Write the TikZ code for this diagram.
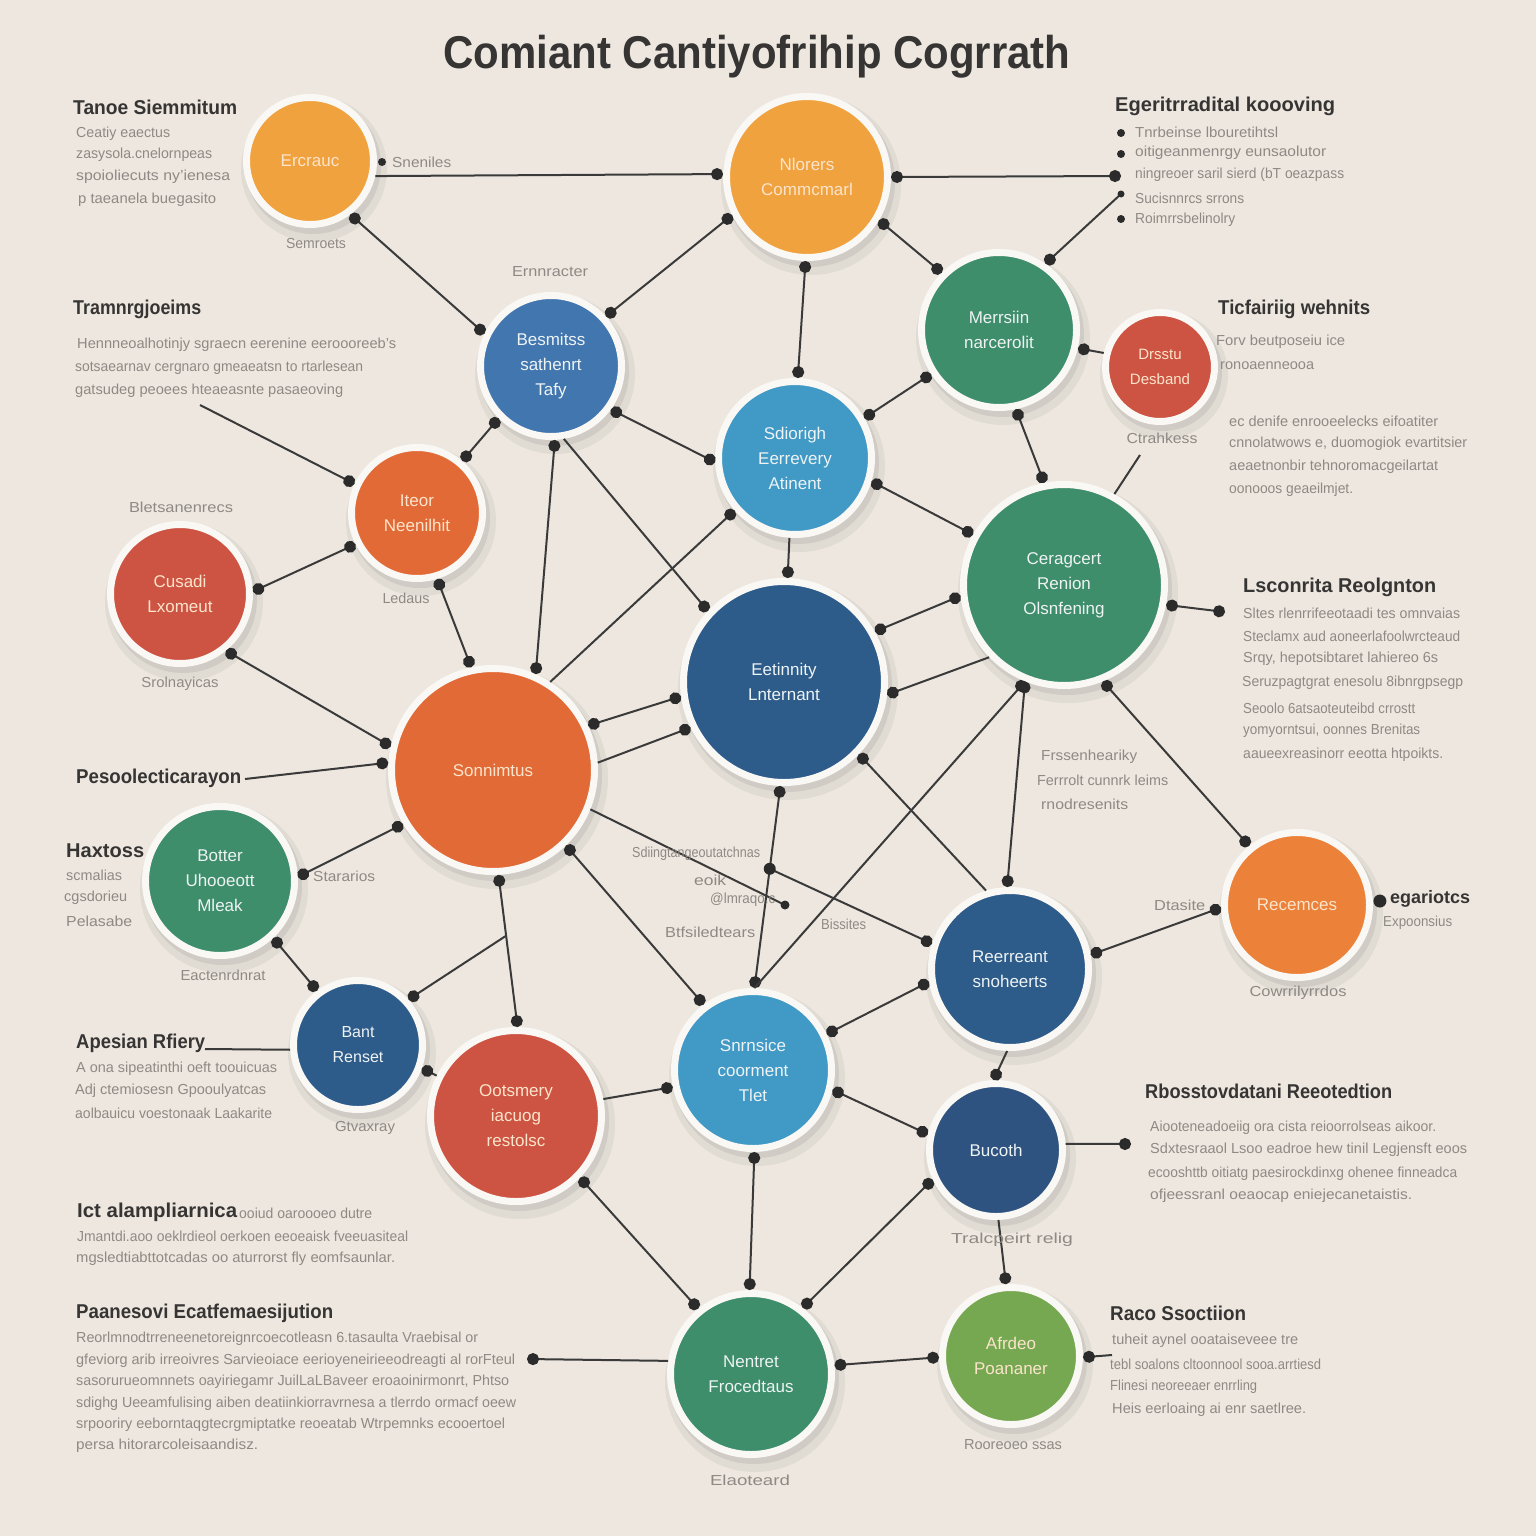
\documentclass[tikz,border=0pt]{standalone}
\usepackage{fontspec}
\setmainfont{Liberation Sans}
\usepackage{graphicx}
\usetikzlibrary{arrows.meta,calc}
\definecolor{bgc}{HTML}{EDE7DF}
\definecolor{ringc}{HTML}{FAF8F4}
\definecolor{linec}{HTML}{3A3A3A}
\definecolor{dotc}{HTML}{2B2B2B}
\definecolor{headc}{HTML}{363534}
\definecolor{bodyc}{HTML}{8E8984}
\definecolor{cOrL}{HTML}{F0A23F}
\definecolor{cOr}{HTML}{E26A37}
\definecolor{cOrB}{HTML}{EC8239}
\definecolor{cRed}{HTML}{CD5443}
\definecolor{cGreen}{HTML}{3E8D6B}
\definecolor{cBlue}{HTML}{4276AF}
\definecolor{cLBlue}{HTML}{4199C6}
\definecolor{cDBlue}{HTML}{2D5B8A}
\definecolor{cNBlue}{HTML}{2F5380}
\definecolor{cLGreen}{HTML}{76A851}
\definecolor{tCream}{HTML}{FBE4CB}
\definecolor{tWhite}{HTML}{EEF3F4}
\newcounter{tcnt}
\newcommand\bodyfont{\fontsize{14.5}{17}\selectfont}
\newcommand\headfont{\fontsize{20}{24}\selectfont\bfseries}
\newcommand\nodefont{\fontsize{17}{25}\selectfont}
\newcommand\tl[4]{\stepcounter{tcnt}\node[txt,anchor=west] (t\arabic{tcnt}) at (#1,#2) {\resizebox{#3pt}{\height}{#4}};}
\newcommand\hd[4]{\stepcounter{tcnt}\node[hdt,anchor=west] (t\arabic{tcnt}) at (#1,#2) {\resizebox{#3pt}{\height}{#4}};}
\newcommand\lb[4]{\stepcounter{tcnt}\node[txt,anchor=center] (t\arabic{tcnt}) at (#1,#2) {\resizebox{#3pt}{\height}{#4}};}
\newcommand\cn[7]{%
  \fill[black,opacity=.05] (#2+4,#3+8) circle[radius={(#4+13)*1pt}];
  \fill[black,opacity=.07] (#2+3,#3+5) circle[radius={(#4+8)*1pt}];
  \node[circle,fill=#5,draw=ringc,line width=7pt,minimum size={2*#4+7},inner sep=0pt,text=#6,font=\nodefont,align=center] (#1) at (#2,#3) {#7};}
\tikzset{
  txt/.style={inner sep=0pt,text=bodyc,font=\bodyfont},
  hdt/.style={inner sep=0pt,text=headc,font=\headfont},
  conn/.style={draw=linec,line width=2pt},
  dd/.style={{Circle[length=12pt,color=dotc]}-{Circle[length=12pt,color=dotc]}},
  ds/.style={{Circle[length=12pt,color=dotc]}-},
  de/.style={-{Circle[length=12pt,color=dotc]}},
}
\begin{document}
\begin{tikzpicture}[x=1pt,y=-1pt]
\fill[bgc] (0,0) rectangle (1536,1536);
\useasboundingbox (0,0) rectangle (1536,1536);

% title
\node[inner sep=0pt,text=headc,font=\fontsize{46}{52}\selectfont\bfseries] (title) at (757,57) {\resizebox{627pt}{\height}{Comiant Cantiyofrihip Cogrrath}};

% circles
\cn{n1}{310}{161}{60}{cOrL}{tCream}{Ercrauc}
\cn{n2}{807}{177}{77}{cOrL}{tCream}{Nlorers\\Commcmarl}
\cn{n3}{999}{330}{74}{cGreen}{tWhite}{Merrsiin\\narcerolit}
\cn{n4}{1160}{367}{51}{cRed}{tCream}{\fontsize{15}{22}\selectfont Drsstu\\\fontsize{15}{22}\selectfont Desband}
\cn{n5}{551}{366}{67}{cBlue}{tWhite}{Besmitss\\sathenrt\\Tafy}
\cn{n6}{795}{458}{73}{cLBlue}{tWhite}{Sdiorigh\\Eerrevery\\Atinent}
\cn{n7}{417}{513}{62}{cOr}{tCream}{Iteor\\Neenilhit}
\cn{n8}{180}{594}{66}{cRed}{tCream}{Cusadi\\Lxomeut}
\cn{n9}{1064}{585}{97}{cGreen}{tWhite}{Ceragcert\\Renion\\Olsnfening}
\cn{n10}{784}{682}{97}{cDBlue}{tWhite}{Eetinnity\\Lnternant}
\cn{n11}{493}{770}{98}{cOr}{tCream}{Sonnimtus}
\cn{n12}{220}{881}{71}{cGreen}{tWhite}{Botter\\Uhooeott\\Mleak}
\cn{n13}{1297}{905}{69}{cOrB}{tCream}{Recemces}
\cn{n14}{1010}{969}{75}{cDBlue}{tWhite}{Reerreant\\snoheerts}
\cn{n15}{358}{1045}{61}{cDBlue}{tWhite}{\fontsize{16}{24}\selectfont Bant\\\fontsize{16}{24}\selectfont Renset}
\cn{n16}{516}{1116}{82}{cRed}{tCream}{Ootsmery\\iacuog\\restolsc}
\cn{n17}{753}{1070}{75}{cLBlue}{tWhite}{Snrnsice\\coorment\\Tlet}
\cn{n18}{996}{1150}{63}{cNBlue}{tWhite}{Bucoth}
\cn{n19}{751}{1374}{77}{cGreen}{tWhite}{Nentret\\Frocedtaus}
\cn{n20}{1011}{1356}{65}{cLGreen}{tCream}{Afrdeo\\Poananer}

% free coordinates
\coordinate (b3) at (1121,176);
\coordinate (b4) at (1121,194);
\coordinate (c11) at (1140,455);
\coordinate (c21) at (200,405);
\coordinate (c23) at (245,779);
\coordinate (c41) at (205,1049);
\coordinate (b33) at (1225,612);
\coordinate (b50) at (1131,1144);
\coordinate (b53) at (527,1359);
\coordinate (c55) at (1112,1355);
\coordinate (m3) at (785,905);
\coordinate (m1) at ($(n10.-92)!0.41!(n17.89)$);
\coordinate (m2) at ($(n11.-87)!0.4!(n16.89)$);

% connectors
\draw[conn,de] (n1.-13) -- (n2.178);
\draw[conn,dd] (n1.-53) -- (n5.154);
\draw[conn,dd] (n2.207) -- (n5.42);
\draw[conn,dd] (n2.269) -- (n6.88);
\draw[conn,dd] (n2.0) -- (b3);
\draw[conn,dd] (n2.-31) -- (n3.135);
\draw[conn,ds] (n3.55) -- (b4);
\draw[conn,ds] (n3.-13) -- (n4.166);
\draw[conn,dd] (n3.-78) -- (n9.101);
\draw[conn,dd] (n3.213) -- (n6.30);
\draw[conn] (c11) -- (n9.61);
\draw[conn,dd] (n5.-36) -- (n6.183);
\draw[conn,dd] (n5.-135) -- (n7.49);
\draw[conn,dd] (n5.-87) -- (n11.66);
\draw[conn,de] (n5.-80) -- (n10.137);
\draw[conn,de] (n6.-94) -- (n10.88);
\draw[conn,ds] (n6.221) -- (n11.57);
\draw[conn,dd] (n6.-17) -- (n9.151);
\draw[conn,dd] (n7.207) -- (n8.2);
\draw[conn,dd] (n7.-73) -- (n11.102);
\draw[conn,de] (c21) -- (n7.155);
\draw[conn,dd] (n8.-51) -- (n11.167);
\draw[conn,de] (c23) -- (n11.176);
\draw[conn,dd] (n10.188) -- (n11.25);
\draw[conn,ds] (n10.206) -- (n11.4);
\draw[conn,dd] (n10.29) -- (n9.186);
\draw[conn,ds] (n10.-7) -- (n9.224);
\draw[conn,ds] (n10.-44) -- (n14.107);
\draw[conn,dd] (n10.-92) -- (n17.89);
\draw[conn,de] (m1) -- (n14.162);
\draw[conn,ds] (n9.248) -- (n17.89);
\draw[conn,dd] (n9.248) -- (n14.92);
\draw[conn,dd] (n9.-11) -- (b33);
\draw[conn,dd] (n9.-68) -- (n13.129);
\draw[conn,dd] (n11.211) -- (n12.3);
\draw[conn,dd] (n11.-87) -- (n16.89);
\draw[conn,de] (m2) -- (n15.42);
\draw[conn,dd] (n11.-46) -- (n17.127);
\draw[conn] (n11.-22) -- (m3);
\draw[conn,dd] (n12.-47) -- (n15.127);
\draw[conn] (c41) -- (n15.184);
\draw[conn,ds] (n15.-20) -- (n16.153);
\draw[conn,de] (n16.11) -- (n17.192);
\draw[conn,dd] (n16.-44) -- (n19.129);
\draw[conn,dd] (n17.26) -- (n14.189);
\draw[conn,dd] (n17.-14) -- (n18.167);
\draw[conn,dd] (n17.-89) -- (n19.91);
\draw[conn,dd] (n14.10) -- (n13.182);
\draw[conn,de] (n14.-92) -- (n18.92);
\draw[conn,de] (n18.5) -- (b50);
\draw[conn,dd] (n18.205) -- (n19.52);
\draw[conn,de] (n18.-88) -- (n20.94);
\draw[conn,de] (n19.171) -- (b53);
\draw[conn,dd] (n19.6) -- (n20.181);
\draw[conn,ds] (n20.-1) -- (c55);

% extra dots
\fill[dotc] (m1) circle[radius=6pt];
\fill[dotc] (m3) circle[radius=4.5pt];
\fill[dotc] (382,162) circle[radius=4pt];
\fill[dotc] ($(n13.3)+(7,0)$) circle[radius=6.5pt];
\fill[dotc] (1121,133) circle[radius=4pt];
\fill[dotc] (1121,154) circle[radius=4pt];
\fill[dotc] (1121,219) circle[radius=4pt];
\fill[dotc] (b4) circle[radius=3.5pt];

% ---- texts ----
\hd{73}{107}{164}{Tanoe Siemmitum}
\tl{76}{134}{94}{Ceatiy eaectus}
\tl{76}{155}{136}{zasysola.cnelornpeas}
\tl{76}{177}{154}{spoioliecuts ny'ienesa}
\tl{78}{200}{138}{p taeanela buegasito}
\tl{392}{162}{59}{Sneniles}
\lb{316}{244}{60}{Semroets}
\lb{550}{272}{76}{Ernnracter}
\hd{73}{309}{128}{Tramnrgjoeims}
\tl{77}{345}{319}{Hennneoalhotinjy sgraecn eerenine eeroooreeb's}
\tl{75}{368}{288}{sotsaearnav cergnaro gmeaeatsn to rtarlesean}
\tl{75}{391}{268}{gatsudeg peoees hteaeasnte pasaeoving}
\lb{181}{507}{104}{Bletsanenrecs}
\lb{406}{598}{47}{Ledaus}
\lb{180}{684}{77}{Srolnayicas}
\hd{76}{778}{165}{Pesoolecticarayon}

\hd{1115}{106}{220}{Egeritrradital koooving}
\tl{1135}{132}{143}{Tnrbeinse lbouretihtsl}
\tl{1135}{153}{191}{oitigeanmenrgy eunsaolutor}
\tl{1135}{175}{209}{ningreoer saril sierd (bT oeazpass}
\tl{1135}{198}{109}{Sucisnnrcs srrons}
\tl{1135}{220}{100}{Roimrrsbelinolry}
\hd{1218}{309}{152}{Ticfairiig wehnits}
\tl{1216}{342}{129}{Forv beutposeiu ice}
\tl{1220}{366}{94}{ronoaenneooa}
\lb{1162}{438}{71}{Ctrahkess}
\tl{1229}{421}{209}{ec denife enrooeelecks eifoatiter}
\tl{1229}{444}{238}{cnnolatwows e, duomogiok evartitsier}
\tl{1229}{467}{209}{aeaetnonbir tehnoromacgeilartat}
\tl{1229}{490}{124}{oonooos geaeilmjet.}

\hd{1243}{587}{193}{Lsconrita Reolgnton}
\tl{1243}{613}{217}{Sltes rlenrrifeeotaadi tes omnvaias}
\tl{1243}{636}{217}{Steclamx aud aoneerlafoolwrcteaud}
\tl{1243}{659}{195}{Srqy, hepotsibtaret lahiereo 6s}
\tl{1242}{683}{221}{Seruzpagtgrat enesolu 8ibnrgpsegp}
\tl{1243}{708}{172}{Seoolo 6atsaoteuteibd crrostt}
\tl{1243}{731}{177}{yomyorntsui, oonnes Brenitas}
\tl{1243}{755}{200}{aaueexreasinorr eeotta htpoikts.}
\tl{1041}{757}{96}{Frssenheariky}
\tl{1037}{780}{131}{Ferrrolt cunnrk leims}
\tl{1041}{804}{87}{rnodresenits}

\hd{66}{851}{78}{Haxtoss}
\tl{66}{875}{56}{scmalias}
\tl{64}{898}{63}{cgsdorieu}
\tl{66}{921}{66}{Pelasabe}
\tl{313}{876}{62}{Stararios}
\lb{223}{975}{85}{Eactenrdnrat}

\tl{632}{854}{128}{Sdiingtangeoutatchnas}
\tl{694}{880}{32}{eoik}
\tl{710}{900}{65}{@lmraqo.c}
\tl{665}{932}{90}{Btfsiledtears}
\tl{821}{924}{45}{Bissites}

\tl{1154}{905}{51}{Dtasite}
\node[hdt,anchor=west,font=\fontsize{18}{22}\selectfont\bfseries] (t900) at (1390,899) {\resizebox{80pt}{\height}{egariotcs}};
\tl{1383}{923}{69}{Expoonsius}
\lb{1298}{993}{97}{Cowrrilyrrdos}

\hd{76}{1043}{129}{Apesian Rfiery}
\tl{76}{1069}{201}{A ona sipeatinthi oeft toouicuas}
\tl{75}{1091}{191}{Adj ctemiosesn Gpooulyatcas}
\tl{75}{1113}{197}{aolbauicu voestonaak Laakarite}
\lb{365}{1128}{60}{Gtvaxray}

\hd{77}{1212}{160}{Ict alampliarnica}
\tl{239}{1213}{133}{ooiud oaroooeo dutre}
\tl{77}{1236}{331}{Jmantdi.aoo oeklrdieol oerkoen eeoeaisk fveeuasiteal}
\tl{76}{1259}{319}{mgsledtiabttotcadas oo aturrorst fly eomfsaunlar.}
\lb{1012}{1240}{122}{Tralcpeirt relig}

\hd{1145}{1091}{247}{Rbosstovdatani Reeotedtion}
\tl{1150}{1128}{286}{Aiooteneadoeiig ora cista reioorrolseas aikoor.}
\tl{1150}{1150}{317}{Sdxtesraaol Lsoo eadroe hew tinil Legjensft eoos}
\tl{1148}{1174}{309}{ecooshttb oitiatg paesirockdinxg ohenee finneadca}
\tl{1150}{1196}{262}{ofjeessranl oeaocap eniejecanetaistis.}

\hd{76}{1313}{257}{Paanesovi Ecatfemaesijution}
\tl{76}{1339}{402}{Reorlmnodtrreneenetoreignrcoecotleasn 6.tasaulta Vraebisal or}
\tl{76}{1361}{439}{gfeviorg arib irreoivres Sarvieoiace eerioyeneirieeodreagti al rorFteul}
\tl{76}{1382}{433}{sasorurueomnnets oayiriegamr JuilLaLBaveer eroaoinirmonrt, Phtso}
\tl{76}{1404}{440}{sdighg Ueeamfulising aiben deatiinkiorravrnesa a tlerrdo ormacf oeew}
\tl{76}{1425}{429}{srpooriry eeborntaqgtecrgmiptatke reoeatab Wtrpemnks ecooertoel}
\tl{76}{1446}{182}{persa hitorarcoleisaandisz.}

\hd{1110}{1313}{136}{Raco Ssoctiion}
\tl{1112}{1341}{186}{tuheit aynel ooataiseveee tre}
\tl{1110}{1364}{211}{tebl soalons cltoonnool sooa.arrtiesd}
\tl{1110}{1387}{147}{Flinesi neoreeaer enrrling}
\tl{1112}{1410}{194}{Heis eerloaing ai enr saetlree.}
\lb{1013}{1445}{98}{Rooreoeo ssas}
\lb{750}{1480}{80}{Elaoteard}
\end{tikzpicture}
\end{document}
